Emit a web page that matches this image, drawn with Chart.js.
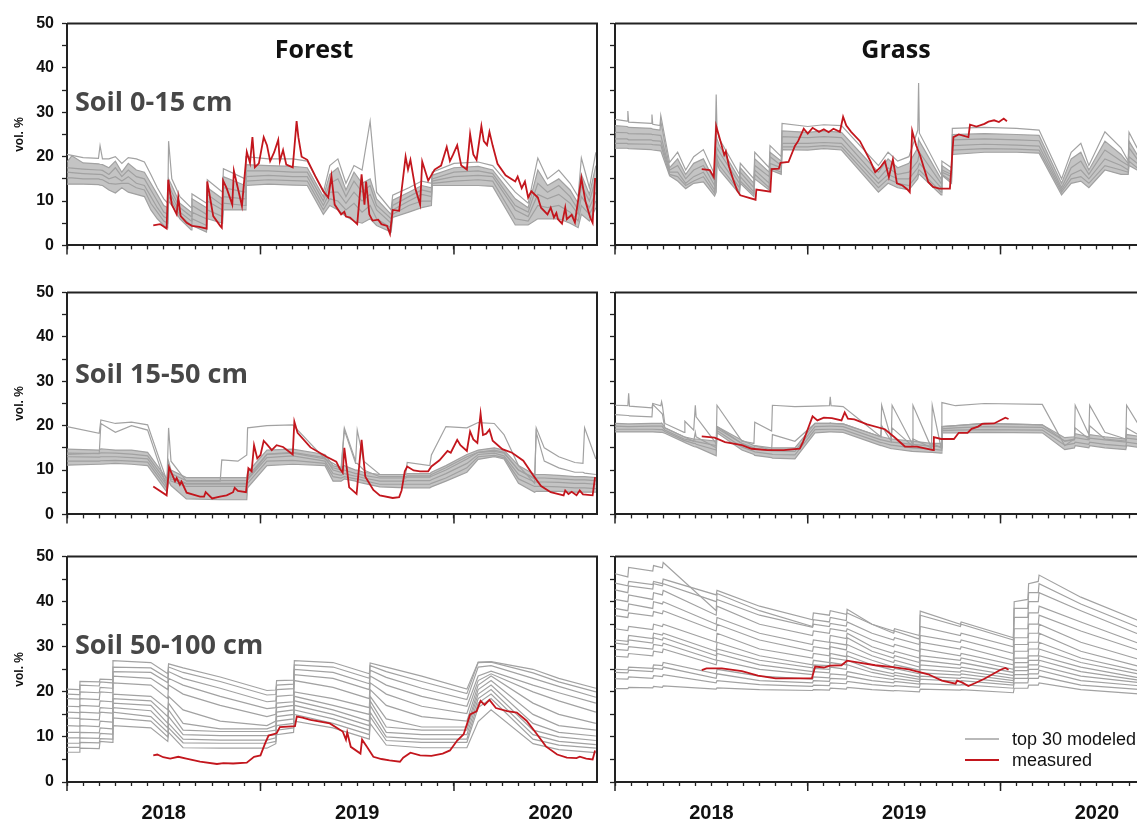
<!DOCTYPE html>
<html>
<head>
<meta charset="utf-8">
<script src="https://cdn.jsdelivr.net/npm/chart.js@4.4.1/dist/chart.umd.min.js"></script>
<style>
  html, body { margin: 0; padding: 0; background: #fff; overflow: hidden; }
  #wrap { position: relative; width: 1137px; height: 824px; overflow: hidden; }
  canvas { position: absolute; }
</style>
</head>
<body>
<div id="wrap">
  <canvas id="forestTop" width="600" height="257" style="left:0;top:6px"></canvas>
  <canvas id="grassTop" width="560" height="257" style="left:600px;top:6px"></canvas>
  <canvas id="forestMid" width="600" height="257" style="left:0;top:275px"></canvas>
  <canvas id="grassMid" width="560" height="257" style="left:600px;top:275px"></canvas>
  <canvas id="forestDeep" width="600" height="283" style="left:0;top:539px"></canvas>
  <canvas id="grassDeep" width="560" height="283" style="left:600px;top:539px"></canvas>
</div>
<script>
// x values are months since 1 Jan 2018
const monthTicks = [0,1,2,3,4,5,6,7,8,9,10,11,12,13,14,15,16,17,18,19,20,21,22,23,24,25,26,27,28,29,30,31,32];
const yearTicks = [0, 12, 24];
const yearLabelPos = [6, 18, 30];
const yearLabels = ['2018', '2019', '2020'];

// ---- Forest, soil 0-15 cm
const forestTopT = [0,0.3,1.0,1.95,2.05,2.2,2.6,3.0,3.4,3.8, 4.3,4.8,5.2,5.6,6.0,6.25,6.3,6.5,7.0,7.7, 7.75,8.65,8.7,9.65,9.7,11.05,11.1,12.5,14.0,14.9, 15.9,16.3,16.8,17.3,17.8,18.3,18.8,19.2,20.1,20.2, 21.2,22.0,22.6,22.65,24.0,25.5,26.4,27.8,28.6,29.2, 29.8,30.5,31.2,31.7,31.9,32.4,32.8];
const forestTopModeled = [
  [20.5,20.3,19.8,19.6,22.5,19.5,19.5,20,18.5,19.8, 19.5,18.8,16,13,10.5,9.5,23.5,15,11,8.5, 11.6,9.5,14.8,12,17.3,15,20,19.5,19.5,19, 12,18,19.5,14,18,17,28,12,8,11.3, 13,14.5,14,16.5,18.5,18.8,18,12,9.5,19.7, 15,17,14,11,19.7,13,21],
  [18.8,20.2,18.6,18.4,18.3,18.2,17.5,19,16.5,18.5, 17,16.5,14,11.5,9,8.5,15,13.5,9.5,7.5, 10.5,8.5,13,10.5,15.5,13.5,18.2,18,17.8,17.5, 11,16,17.5,12.5,16.5,14,15,10.5,7,10.2, 12,13.5,13,15.8,17.5,17.8,17,10.5,8.5,17, 13.5,15,12.5,9.5,16,11.5,18],
  [17.5,17.4,17.2,17,17,16.9,16,17.5,15.5,17, 15.5,15,12.5,10,7.5,7,13.5,12,8.5,6.5, 9,7,11.5,9,13,12,16.8,16.8,16.5,16.5, 10,14,15,11,14.5,12,13.5,9,6,9, 11,12.5,12,15,16.5,16.8,16.2,9,7.5,14, 12,13.5,11,8,13.5,10,15],
  [16.5,16.4,16.2,16,16,15.9,15,15.5,14.5,15.5, 14,13.5,11,8.5,6.5,6,12,11,7.5,5.5, 7.5,6,10,8,11,10.5,15.5,15.8,15.5,15.5, 9,12,12,9.5,12,10,11.5,8,5,8, 10,11.5,11,14.5,15.5,15.8,15.5,8,6.5,11.5, 10.5,11.5,9.5,7,11,8.5,12],
  [15.2,15.2,15,15,14.9,14.8,14,13.8,14,14, 13,12.5,9.5,7.5,5.5,5,11,10,6.8,4.5, 6,4.5,8,6.5,9.5,9,14.5,14.8,14.6,14.5, 8,10.5,10,8,9.5,7.5,9,6,4,7, 9,10,10,14,14.5,14.8,14.5,6,5.5,9, 8.5,9,7.5,5.5,9,7,10],
  [13.8,13.8,13.8,13.7,13.6,13.5,12.5,11.8,13,12, 11.5,11,8,6,4.5,4,10,9,6,3.5, 4.5,3,6,5,8,8,13.5,13.8,13.6,13.5, 7,9,8,6.5,5.5,5,6,4.5,3,6.3, 7.5,8.5,9,13.5,13.5,13.5,13.3,4.6,4.6,6, 6,6,5,4,7,5.5,8.5]
];
const forestTopMeasured = [[5.35,4.5],[5.77,4.8],[6.18,3.8],[6.28,14.8],[6.5,9.2],[6.8,7.0],[6.9,10.8],[7.05,6.6],[7.42,5.1],[7.75,4.4],[8.2,4.2],[8.66,3.8],[8.7,14.4],[9.07,6.6],[9.5,4.4],[9.6,4.0],[9.68,14.6],[9.9,12.9],[10.25,9.2],[10.35,16.8],[10.85,8.9],[11.15,21.1],[11.35,18.6],[11.5,24.4],[11.65,17.6],[11.9,18.5],[12.2,24.4],[12.4,22.6],[12.6,19],[12.85,21],[13.1,23.8],[13.2,19],[13.4,21.5],[13.6,18.2],[14.0,17.6],[14.24,28],[14.35,24.4],[14.55,20],[14.9,19.3],[15.4,15.6],[15.9,12.2],[16.2,10.8],[16.4,15.6],[16.6,9.2],[17.0,7.0],[17.2,7.6],[17.3,6.5],[17.55,6.3],[18.0,4.8],[18.27,16],[18.45,9.2],[18.55,14.4],[18.75,7],[18.95,5.6],[19.3,5.8],[19.5,4.8],[19.85,4.4],[20.03,2.6],[20.2,8.0],[20.6,7.8],[21.0,20],[21.15,17.1],[21.3,19.3],[21.6,12.9],[21.9,9.2],[22.03,18.9],[22.4,14.6],[22.8,17.1],[23.2,18],[23.55,22.2],[23.75,19],[23.95,20.5],[24.2,22.6],[24.45,18],[24.8,17.1],[25.0,25.1],[25.2,20.5],[25.4,19.3],[25.7,26.9],[25.85,23.5],[26.05,22.6],[26.2,25.6],[26.4,22.5],[26.7,18.4],[27.2,15.8],[27.8,14.4],[27.95,15.5],[28.2,12.9],[28.4,14.4],[28.6,10.8],[28.8,12.2],[29.2,10.8],[29.4,8.5],[29.8,7.0],[30.0,8.5],[30.2,6.3],[30.35,7.3],[30.45,5.9],[30.7,4.9],[30.9,8.5],[31.0,5.9],[31.3,6.9],[31.5,5.2],[31.9,15.2],[32.15,10],[32.45,6.3],[32.6,5.1],[32.75,15.2]];

// ---- Grass, soil 0-15 cm
const grassTopT = [0,0.75,0.8,0.85,2.25,2.3,2.35,2.8,2.85,3.4, 3.9,4.4,4.9,5.5,6.2,6.3,6.35,6.5,7.75,7.8, 8.65,8.7,9.6,9.65,10.35,10.4,12.0,13.0,14.1,16.4, 17.0,17.6,18.3,18.85,18.9,18.95,20.3,20.35,20.95,21.0, 23.0,25.0,26.4,27.8,28.4,29.0,29.5,30.5,31.5,31.95, 32.0,32.5,32.8];
const grassTopModeled = [
  [28.4,28,30.3,27.8,27.5,29.5,27.3,27,29.3,18.7, 21,17,20,21.6,16,34,26,24,16,18.5, 15,21,17.5,22.5,20,27.5,26.8,27.2,27,18, 21,19,20,26,36.6,25.3,16,19,17.5,26.4, 26.6,26.4,26,15,21,23,18,25.6,22,19, 25.5,22,21],
  [27,26.8,26.7,26.6,26.4,26.3,26.2,26,28,17.5, 19.5,16,18.5,19.5,14.5,25,24,22.5,15,17.5, 14,19.5,16.5,21,19,25.8,25.5,25.8,25.5,16.5, 19.5,17.5,18.5,22,24,23.5,15,18,16.5,25, 25.2,25,24.8,14,19.5,21,17,23.5,20.5,18.5, 23.5,20.5,20],
  [25.5,25.4,25.3,25.2,25.1,25,25,24.8,24.8,17, 18,15,17,18,13.5,20,22,21,14,16.5, 13,18,15.5,20,18,24.5,24.3,24.5,24.3,15, 17.5,16,16.5,19,20,21,14,17,16,23.8, 24,23.8,23.6,13,17.5,19,16,21.5,19,18, 22,19.5,19],
  [24,24,23.9,23.8,23.8,23.7,23.6,23.5,23.5,16.5, 16.5,14,15.5,16.5,12.5,16,20.5,19.5,13,15.5, 12,17,14,18.5,17.5,23,23,23.2,23,14, 16,15,15,17.5,18,18.5,13,16.5,15.5,22.5, 22.8,22.6,22.4,12.5,16,17,15,19.5,18,17, 20,18.5,18],
  [23,23,22.9,22.9,22.8,22.8,22.7,22.6,22.6,16, 15.5,13.5,14.5,15.5,11.8,14,19.5,18,12.2,14.5, 11.5,16,13,17.5,16.5,22.2,22.2,22.5,22.2,13, 15,14,13.5,16,17,17,12,16,14.5,21.5, 21.8,21.7,21.5,12,15,15.5,14,18,17,16.5, 19,17.5,17],
  [21.9,21.9,21.9,21.8,21.6,21.6,21.5,21.3,21.3,15.7, 14.5,12.8,14,14.3,11.1,12,18.6,17,11.6,14, 11,15,12.5,17,16,21.6,21.5,21.8,21.5,12, 14,13,12.5,15,16,16,11.4,15.8,14,20.5, 21,21,20.8,11.4,14,14.5,13,17,16,16, 18,17,16.5]
];
const grassTopMeasured = [[5.4,17.2],[5.9,17.0],[6.15,15.4],[6.3,26.9],[6.55,23.7],[6.8,20.4],[6.9,21.2],[7.1,17.8],[7.35,14.9],[7.6,12.4],[7.8,11.3],[8.75,10.3],[8.8,12.6],[9.67,12.1],[9.75,17.2],[10.2,17.3],[10.3,18.6],[10.8,18.8],[11.2,22.4],[11.4,23.5],[11.75,26.3],[12.0,25.2],[12.3,26.5],[12.7,25.6],[13.0,26.2],[13.3,25.5],[13.6,26.3],[14.0,25.6],[14.2,29],[14.4,27],[14.7,25.6],[15.25,23.5],[15.9,19.0],[16.2,16.5],[16.5,17.5],[16.8,19.0],[17.05,15.4],[17.3,19.4],[17.55,14.0],[17.9,13.5],[18.2,12.6],[18.35,12],[18.5,25.8],[18.75,22.5],[19.0,20.2],[19.5,14.3],[19.8,13.2],[20.2,12.8],[20.85,12.8],[21.07,24.4],[21.4,25.0],[22.0,24.4],[22.1,27.2],[22.5,26.8],[23.0,27.4],[23.25,27.9],[23.6,28.2],[23.9,27.8],[24.2,28.6],[24.4,28.0]];

// ---- Forest, soil 15-50 cm
const forestMidT = [0,2.0,2.1,3.0,4.0,5.0,6.2,6.3,6.45,7.4, 9.5,9.6,10.6,11.15,11.2,12.4,14.0,16.0,16.5,17.0, 17.2,17.9,18.0,18.4,19.4,21.0,21.1,22.5,22.6,23.5, 24.8,25.5,26.5,27.1,28.0,29.0,29.1,29.6,30.5,31.5, 32.0,32.1,32.8];
const forestMidModeled = [
  [19.8,18.3,21.3,20.5,20.8,20.2,7.5,19.5,12,7.5, 7.5,12.3,12,13.4,19.5,20,20.2,12.5,11.5,10.5, 19.5,12,19,12,9,9,11.7,11,13.4,19.8, 19.5,20.7,20.5,18,11,7,19.5,15,13,11.7, 11.5,19.5,12.5],
  [13.5,13.8,20.5,18.5,20,19,6,9.5,8,6.8, 6.8,6.8,6.8,6.8,8,13.5,13.8,12.5,10.5,10, 19,11.5,11.5,10,8.5,8.5,8.7,8.7,9,10.5, 13,14,14.5,14,10,8,18.5,12,10.5,9.5, 9.5,9.3,9],
  [14.7,14.5,14.8,14.5,14.5,14,8,12,10,8.3, 8.3,8.3,8.3,8.3,9.5,14.5,14.7,13.5,11,10.5, 11,10,10,9.5,9,9,9.2,9.2,9.5,11, 13.5,14.5,15,14.5,11,9,9,9,8.8,8.5, 8.5,8.5,8.3],
  [13.8,13.7,13.9,13.8,13.6,13.2,7.2,11,9.2,7.6, 7.6,7.6,7.6,7.6,8.5,13.6,14,12.8,10,9.5, 10,9.2,9.2,8.8,8.2,8.2,8.4,8.4,8.6,10, 12.5,14,14.2,13.8,10,8.2,8.2,8.2,8,7.8, 7.8,7.8,7.6],
  [13,12.9,13,13,12.8,12.5,6.5,10,8.5,7, 7,7,7,7,7.8,12.8,13.2,12,9.2,8.8, 9.2,8.6,8.6,8.2,7.5,7.5,7.6,7.6,7.8,9.2, 11.5,13.5,13.8,13.2,9,7.3,7.3,7.3,7.2,7, 7,7,6.8],
  [12,12,12.1,12.2,12,11.8,5.8,9,7.5,6.3, 6.3,6.3,6.3,6.3,7,12,12.2,11.5,8.5,8.2, 8.5,8,8,7.6,6.8,6.8,6.8,6.8,7,8.2, 10.5,13,13.3,12.8,8,6.3,6.3,6.3,6.2,6, 6,6,5.8],
  [11.1,11.3,11.3,11.5,11.3,11,5,7.5,6.5,3.5, 3.3,3.3,3.3,3.3,6,11,11.3,11,7.5,7.5, 8,7.5,7.3,7,6.2,6,6,6,6.2,7.5, 9.5,12.4,13,12.5,7,5,5.2,5.2,5.2,5, 5,5,5]
];
const forestMidMeasured = [[5.35,6.3],[6.18,4.3],[6.33,10.6],[6.7,7.5],[6.8,8.2],[7.0,6.7],[7.1,7.4],[7.42,4.9],[8.25,4.0],[8.5,4.0],[8.6,5.0],[9.0,3.6],[9.48,4.0],[9.9,4.3],[10.3,5.0],[10.4,6.0],[10.6,5.3],[11.1,5.0],[11.25,10.4],[11.45,9.7],[11.6,15.6],[11.8,12.6],[12.0,13.4],[12.2,16.6],[12.4,15.8],[12.7,14.5],[13.0,15.6],[13.4,15.2],[14.0,13.5],[14.1,20.9],[14.3,18.4],[15.1,15.1],[16.1,13.0],[16.7,11.9],[16.9,10.4],[17.1,9.4],[17.2,15.0],[17.5,6.1],[17.96,4.6],[18.27,16.8],[18.5,8.5],[19.0,5.5],[19.4,4.3],[20.2,3.7],[20.6,3.9],[20.75,5.4],[20.95,9.7],[21.1,10.8],[21.5,9.9],[21.9,9.7],[22.4,9.7],[22.6,10.8],[23.1,12.2],[23.6,14.3],[23.8,13.9],[24.2,16.8],[24.4,15.6],[24.8,14.3],[25.0,18.7],[25.2,16.9],[25.45,16.1],[25.65,22.7],[25.8,17.9],[26.0,18.2],[26.2,19.1],[26.4,16.6],[27.0,14.7],[27.6,13.9],[28.3,12.1],[28.9,8.9],[29.4,6.4],[30.0,5.0],[30.8,4.3],[30.9,5.4],[31.1,4.6],[31.3,5.1],[31.6,4.3],[31.8,5.4],[32.0,4.5],[32.6,4.3],[32.75,8.4]];

// ---- Grass, soil 15-50 cm
const grassMidT = [0,0.8,0.85,0.9,2.3,2.35,2.85,2.9,2.95,3.1, 4.3,4.35,4.9,5.0,5.05,6.3,6.35,7.9,8.65,8.7, 9.75,9.8,11.2,12.45,13.35,13.4,13.45,14.2,16.55,16.6, 17.2,17.25,18.5,18.55,19.7,19.75,20.3,20.35,21.2,23.0, 26.6,28.0,28.6,28.65,29.5,29.55,30.5,31.8,31.85,32.8];
const grassMidModeled = [
  [24.6,24.5,27.3,24.4,24.0,25,24.5,25.4,24.5,20.5, 18.5,21,19,24.6,22,16,24.6,16.5,16,20.8, 18.8,24.6,24.3,24.4,24.5,26.5,24.5,24.3,17.5,24.6, 17,24.6,16,24.6,15,24.6,15,25.2,24.5,25, 24.8,15.5,17,24.6,18,24.6,18.5,17,24.6,19],
  [22.5,22.3,22.3,22.2,22,24.8,23,22.8,22.6,19.5, 17.5,17.5,16.5,18.5,17.5,15,19.8,16,15,15.5, 14.5,18,16.5,20.5,20.5,20.6,20.5,20.4,17.5,20, 16.5,19.5,15.5,17,15,16,15,19.8,20,20.5, 20.2,16.5,17,19.5,17,20,17,16.5,19.5,17.5],
  [20.5,20.4,20.4,20.4,20.5,20.5,20.5,20.6,20.4,19.5, 17.5,17.5,17,17,17,16.5,19.8,16.7,15.5,15.5, 15,15,15,20.5,20.5,20.6,20.5,20.4,17.5,17.5, 17,17,16.5,16.5,16,16,16,19.8,20,20.5, 20.2,17.3,17.5,18.2,17.5,18,17.5,17,18,17.5],
  [19.9,19.8,19.8,19.8,19.9,19.9,19.9,19.9,19.8,19, 17,17,16.5,16.5,16.4,15.5,19.4,16,14.8,14.8, 14.3,14.3,14.2,19.8,19.9,19.9,19.9,19.8,16.8,16.8, 16.3,16.3,15.8,15.8,15.4,15.4,15.3,19.3,19.5,19.8, 19.6,16.5,16.8,17.3,16.8,17.2,16.8,16.3,17.2,16.8],
  [19.2,19.2,19.2,19.2,19.2,19.2,19.1,19.1,19.1,18.7, 16.7,16.7,16,16,15.8,14.5,18.9,15.2,14.2,14.1, 13.6,13.5,13.4,19.1,19.2,19.2,19.2,19.1,16.2,16.2, 15.6,15.6,15,15,14.7,14.7,14.5,18.9,19,19.1, 19,15.6,16,16.3,15.8,16.3,15.8,15.4,16.3,15.8],
  [18.6,18.6,18.6,18.6,18.6,18.6,18.5,18.5,18.5,18.3, 16.3,16.2,15.3,15.2,15.2,13.2,18.4,14.5,13.5,13.3, 12.8,12.7,12.5,18.4,18.6,18.6,18.6,18.5,15.5,15.5, 14.8,14.8,14.2,14.2,14,14,13.8,18.4,18.4,18.5, 18.4,14.6,15,15.5,15,15.5,15,14.6,15.5,15]
];
const grassMidMeasured = [[5.4,17.6],[6.2,17.3],[6.85,16.3],[7.9,15.6],[8.5,14.8],[9.5,14.5],[10.5,14.5],[11.5,14.8],[11.7,16.3],[12.0,19.2],[12.3,22.1],[12.6,21.2],[13.0,21.8],[13.5,21.7],[14.1,21.2],[14.3,23.0],[14.5,21.6],[14.9,21.4],[15.7,20.3],[16.8,19.2],[17.4,17.4],[18.05,15.3],[18.8,15.3],[19.8,14.5],[19.85,17.4],[20.3,17.0],[21.1,17.0],[21.4,18.4],[21.95,18.4],[22.2,19.3],[22.6,19.8],[22.85,20.4],[23.6,20.5],[24.3,21.8],[24.5,21.5]];

// ---- Forest, soil 50-100 cm
const forestDeepT = [0,0.75,0.8,2.0,2.05,2.8,2.85,5.2,6.25,6.3, 7.2,9.5,12.4,12.95,13.0,14.05,14.1,16.5,18.75,18.8, 19.8,22.0,24.8,25.5,26.3,28.9,30.5,32.8];
const forestDeepModeled = [
  [20.6,20.5,22.3,22.2,22.8,22.7,26.9,26.5,24,26.2, 25.3,23.3,20.3,20.4,22.5,22.6,26.9,26.5,24,26.4, 25.5,23.5,20.6,26.6,26.7,25,23,20.8],
  [19.5,19.4,21.5,21.3,22.2,22,25.5,25.3,23,25.5, 24.3,22.3,19.3,19.4,21.5,21.7,26,25.5,23,25.8, 24.5,22.3,19.6,26.5,26.6,24.2,22.2,20],
  [18.5,18.4,20,19.8,21,20.8,24.5,24.3,22,24.5, 23,20.8,17.8,18,20.5,20.7,25,24.3,21.8,24.8, 23.2,20.8,18.3,25.5,25.8,23,21.2,18.8],
  [16.8,16.7,18.5,18.3,20,19.8,23.5,23,20.5,23, 21.5,19,16.3,16.5,19,19.3,23.8,23,20.5,23.5, 21.5,19,16.8,23.5,24.6,21.5,19.8,17.5],
  [15.5,15.4,17,16.8,18,17.8,22,21.5,18.5,21.5, 19.5,17,14.5,15,17.5,17.8,22.5,21,18.5,22, 19.5,16.8,15.2,22.5,24,20,18,15.5],
  [14.2,14.1,15.5,15.3,16.5,16.3,19.5,19,16,19, 16,13.5,12.5,13.5,16.5,17,20,18.5,16.5,20.5, 17,14.5,13.5,21.5,23.5,17.5,15,13],
  [12.5,12.4,14,13.8,15.5,15.3,18.5,18,14.5,17.5, 13,11.8,11.8,12.5,15.5,16,19,17,15,19, 14,12.2,12.2,20.5,22.5,15,12.5,11.5],
  [11,11,12.5,12.3,13.5,13.3,17.5,17,13,16, 11.5,11.2,11.2,11.5,14.5,15,18,16,13.5,18, 12.2,11.5,11.5,19.5,21.5,13,11,10.2],
  [9.8,9.8,11,10.9,12,11.8,16.5,15.8,12,14.5, 10.5,10.3,10.3,10.5,13.5,14,17,15,12.5,17, 11,10.5,10.5,18.5,20.5,11.5,10,9.2],
  [8.6,8.6,9.8,9.7,10.8,10.6,15.5,14.5,11,13, 9.5,9.3,9.3,9.8,12.5,13,16,14,11.5,15.5, 10,9.5,9.5,17.5,19.5,10.5,9,8.3],
  [7.7,7.7,8.8,8.7,9.6,9.5,14.2,13.5,10,12, 8.7,8.6,8.6,9,11.5,12,15,13,10.5,14.5, 9.2,8.8,8.8,16.5,18.5,9.5,8.2,7.5],
  [6.6,6.6,7.5,7.4,9,8.8,12.5,12,9,11, 7.6,7.5,7.5,8.5,10.5,11,13.5,12,9.5,13, 8.2,7.6,7.6,13.4,16,8.5,7.2,6.5]
];
const forestDeepMeasured = [[5.35,5.9],[5.6,6.1],[5.97,5.5],[6.4,5.2],[6.9,5.6],[7.4,5.2],[8.25,4.5],[9.3,4.0],[9.7,4.2],[10.3,4.1],[11.15,4.3],[11.6,5.6],[12.0,5.9],[12.28,8.5],[12.5,10.3],[13.0,10.8],[13.2,12.2],[14.14,12.4],[14.25,14.5],[14.6,14.3],[15.1,13.8],[16.3,13.0],[17.1,11.2],[17.3,9.4],[17.38,11.0],[17.6,7.8],[18.2,6.3],[18.3,9.4],[18.6,7.8],[19.0,5.6],[19.5,5.1],[20.0,4.8],[20.65,4.5],[20.85,5.4],[21.3,6.5],[21.9,5.9],[22.6,5.8],[23.3,6.3],[23.75,7.0],[24.2,9.2],[24.6,10.6],[25.0,15.0],[25.4,15.7],[25.65,18.0],[25.9,17.1],[26.2,18.2],[26.6,16.4],[27.3,15.7],[27.9,15.4],[28.5,13.6],[29.1,10.8],[29.7,7.9],[30.4,6.1],[31.0,5.4],[31.6,5.3],[31.8,5.6],[32.2,5.2],[32.6,5.0],[32.75,7.0]];

// ---- Grass, soil 50-100 cm
const grassDeepT = [0,0.8,0.85,2.35,2.4,2.95,3.0,6.3,6.35,9.0, 12.3,12.35,13.35,13.4,14.4,14.45,16.0,17.35,17.4,18.95, 19.0,21.5,21.55,24.8,24.85,25.7,25.75,26.35,26.4,29.0, 32.8];
const grassDeepModeled = [
  [46.2,45.5,47.6,46.8,48,47.5,48.7,38,41.8,38, 34.5,36,35.5,36.5,35.8,38.3,35,33,33.5,31.7, 37.9,35,35.5,32,40,40.5,44,44.5,45.9,41, 35.5],
  [44.1,43.5,44.5,43.8,44.5,44,45,41.5,42.5,39, 36,37.5,37,38,37.2,37.5,35,33.5,34,32.5, 37,34.5,35,31.5,38.5,38.5,42,42,44,39.5, 34],
  [42.6,42,43.5,42.8,44,43.5,44,40,40.5,37, 34.3,35,34.5,35.2,34.6,35.5,33,31.5,32,30.5, 34.5,32.5,33,30,36.5,36.5,40,40,42,38, 32.5],
  [40.5,40,41.5,40.5,42,41.5,42.5,37,39,35, 32.5,33.5,33,34,33.4,34,31.5,30,30.5,29, 32.5,31,31.5,28.5,34,34,37.5,37.5,39,35.5, 30.5],
  [38.5,38,39.5,38.5,40,39.5,40,35,36.5,33, 30.5,31.5,31,32.5,31.8,33,30,28.5,29,27.5, 31,29.5,30,27,32,32,35,35,37,33.5, 29],
  [36.9,36.5,37.5,36.8,37.8,37.3,38,33.5,35,31.5, 29,30,29.5,31,30.4,32,29,27.5,28,26.5, 29.5,28,28.5,26,30.5,30.5,33,33,35,31, 27],
  [34,33.6,34.5,33.8,35,34.5,35,31,33,29.5, 27.5,28.5,28,30,29.3,30.5,28,26.5,27,25.5, 28,27,27.5,25,29,29,31,31,33,29, 25.5],
  [31.5,31.2,32.5,31.8,33,32.6,33,29,31,28, 26,27,26.5,28.5,27.8,29,27,25.5,26,24.8, 27,26,26.5,24.3,27.5,27.5,29.5,29.5,31,27.5, 24.5],
  [30.8,30.5,31.5,30.8,32,31.5,32,28,29.5,27, 25.3,26,25.8,27.5,27,28,26,24.8,25.2,24, 26,25.2,25.5,23.6,26.5,26.5,28,28,29.5,26.5, 23.8],
  [29.4,29.2,30,29.5,30.5,30.2,30.8,27,28.5,26, 24.5,25.2,25,26.5,26,27,25,24,24.3,23.3, 25,24.4,24.7,23,25.5,25.5,27,27,28,25.5, 23],
  [27.9,27.7,28.5,28,29,28.7,29.5,26,27,25, 23.8,24.5,24.2,25.5,25,26,24.3,23.4,23.7,22.8, 24.2,23.7,24,22.5,24.7,24.7,26,26,27,24.5, 22.5],
  [25,24.9,25.5,25.2,26,25.8,26.5,24,25,23.5, 22.8,23.3,23.1,24,23.7,24.5,23.4,22.7,23,22.3, 23.5,23,23.2,22,23.8,23.8,25,25,25.8,23.5, 22],
  [24.3,24.2,24.8,24.5,25.2,25,25.5,23,24,22.5, 22,22.5,22.3,23,22.8,23.5,22.5,22,22.3,21.7, 22.8,22.3,22.5,21.5,23,23,24,24,24.8,22.5, 21.3],
  [22.9,22.8,23.3,23,23.6,23.4,23.8,22,22.5,21.6, 21.2,21.5,21.4,22,21.8,22.3,21.6,21.2,21.4,21, 21.8,21.5,21.6,20.8,22,22,23,23,23.5,21.5, 20.5],
  [20.7,20.7,21,20.9,21.2,21,21.3,20.6,20.9,20.5, 20.3,20.5,20.4,20.8,20.6,21,20.5,20.2,20.3,20, 20.6,20.4,20.5,19.8,20.8,20.8,21.5,21.5,22,20.5, 19.5]
];
const grassDeepMeasured = [[5.4,24.8],[5.7,25.2],[6.65,25.2],[7.9,24.6],[8.9,23.6],[10.0,23.0],[12.26,23.0],[12.46,25.6],[13.0,25.4],[13.4,25.8],[14.1,25.9],[14.45,26.9],[15.0,26.6],[16.2,25.9],[17.3,25.5],[18.3,25.0],[19.5,23.9],[20.35,22.5],[21.2,21.8],[21.3,22.5],[21.6,22.1],[22.0,21.3],[22.4,21.9],[23.0,22.9],[23.7,24.3],[24.0,24.9],[24.3,25.3],[24.5,24.9]];

const gray = '#a2a2a2';
const bandFill = 'rgba(160,160,160,0.62)';
const red = '#c3161d';
const axisColor = '#222';

Chart.defaults.font.family = "'Liberation Sans', Arial, sans-serif";

const panelPlugin = {
  id: 'panel',
  afterDraw(chart, args, o) {
    const ctx = chart.ctx, a = chart.chartArea, xs = chart.scales.x;
    ctx.save();
    // top and right frame
    ctx.strokeStyle = axisColor;
    ctx.lineWidth = 2;
    ctx.beginPath();
    ctx.moveTo(a.left, a.top);
    ctx.lineTo(a.right, a.top);
    ctx.lineTo(a.right, a.bottom);
    ctx.stroke();
    // longer ticks at year boundaries
    ctx.lineWidth = 1.5;
    yearTicks.forEach(v => {
      const px = xs.getPixelForValue(v);
      ctx.beginPath();
      ctx.moveTo(px, a.bottom);
      ctx.lineTo(px, a.bottom + 9);
      ctx.stroke();
    });
    ctx.textBaseline = 'alphabetic';
    if (o.title) {
      ctx.textAlign = 'center';
      ctx.font = "bold 25px 'Open Sans'";
      ctx.fillStyle = '#111';
      ctx.fillText(o.title, a.left + o.titleX, a.top + 34);
    }
    if (o.soil) {
      ctx.textAlign = 'left';
      ctx.font = "bold 27px 'Open Sans'";
      ctx.fillStyle = '#474747';
      ctx.fillText(o.soil, a.left + 8, a.top + o.soilY);
    }
    if (o.legend) {
      const lx = a.left + 350, ty = a.bottom - 43;
      [[gray, 'top 30 modeled'], [red, 'measured']].forEach((item, i) => {
        const y = ty + i * 21;
        ctx.strokeStyle = item[0];
        ctx.lineWidth = i ? 1.8 : 1.4;
        ctx.beginPath();
        ctx.moveTo(lx, y);
        ctx.lineTo(lx + 34, y);
        ctx.stroke();
        ctx.fillStyle = '#111';
        ctx.textAlign = 'left';
        ctx.textBaseline = 'middle';
        ctx.font = "18px 'Liberation Sans', Arial";
        ctx.fillText(item[1], lx + 47, y + 1);
      });
    }
    ctx.restore();
  }
};

function makePanel(id, t, modeled, measured, p) {
  const datasets = [{
    data: measured.map(q => ({ x: q[0], y: q[1] })),
    borderColor: red, borderWidth: 1.8, order: 0, fill: false
  }];
  modeled.forEach((trace, i) => {
    const ds = {
      data: trace.map((v, k) => ({ x: t[k], y: v })),
      borderColor: gray, borderWidth: 1.2, order: 1, fill: false
    };
    // the dense model band is shaded between two of its traces
    if (p.band && i === p.band[0]) {
      ds.fill = { target: p.band[1] + 1 };
      ds.backgroundColor = bandFill;
    }
    datasets.push(ds);
  });

  new Chart(document.getElementById(id), {
    type: 'line',
    data: { datasets },
    options: {
      responsive: false,
      animation: false,
      events: [],
      layout: { padding: { top: 12, right: p.padRight, bottom: 0, left: 0 } },
      elements: { point: { radius: 0 }, line: { tension: 0 } },
      plugins: {
        legend: { display: false },
        tooltip: { enabled: false },
        filler: { propagate: false },
        panel: { title: p.title, titleX: p.titleX, soil: p.soil, soilY: p.soilY, legend: p.legend }
      },
      scales: {
        x: {
          type: 'linear', min: 0, max: 32.87,
          afterBuildTicks: s => { s.ticks = monthTicks.map(v => ({ value: v })); },
          afterFit: s => { s.height = p.xh; },
          grid: { drawOnChartArea: false, tickLength: 4, tickColor: axisColor, tickWidth: 1.3 },
          border: { color: axisColor, width: 2 },
          ticks: {
            autoSkip: false, maxRotation: 0, minRotation: 0, padding: 15,
            color: '#111', font: { size: 20, weight: 'bold' },
            callback: v => {
              if (!p.years) return '';
              const k = yearLabelPos.indexOf(v);
              return k >= 0 ? yearLabels[k] : '';
            }
          }
        },
        y: {
          min: 0, max: 50,
          afterFit: s => { s.width = p.yw; },
          grid: { drawOnChartArea: false, tickLength: 5, tickColor: axisColor, tickWidth: 1.3 },
          border: { color: axisColor, width: 2 },
          ticks: {
            stepSize: 5, padding: 8, color: '#111', font: { size: 16, weight: 'bold' },
            callback: v => (p.yLabels && v % 10 === 0) ? v : ''
          },
          title: {
            display: p.yLabels, text: 'vol. %', color: '#111',
            font: { size: 12, weight: 'bold' }, padding: { top: 12, bottom: 0 }
          }
        }
      }
    },
    plugins: [panelPlugin]
  });
}

const leftCol = { yw: 67, padRight: 3, yLabels: true };
const rightCol = { yw: 13, padRight: 17, yLabels: false };

makePanel('forestTop', forestTopT, forestTopModeled, forestTopMeasured,
  Object.assign({}, leftCol, { xh: 14, band: [1, 5], title: 'Forest', titleX: 247, soil: 'Soil 0-15 cm', soilY: 87 }));
makePanel('grassTop', grassTopT, grassTopModeled, grassTopMeasured,
  Object.assign({}, rightCol, { xh: 14, band: [1, 5], title: 'Grass', titleX: 281 }));
makePanel('forestMid', forestMidT, forestMidModeled, forestMidMeasured,
  Object.assign({}, leftCol, { xh: 14, band: [2, 6], soil: 'Soil 15-50 cm', soilY: 90 }));
makePanel('grassMid', grassMidT, grassMidModeled, grassMidMeasured,
  Object.assign({}, rightCol, { xh: 14, band: [2, 5] }));
makePanel('forestDeep', forestDeepT, forestDeepModeled, forestDeepMeasured,
  Object.assign({}, leftCol, { xh: 40, years: true, soil: 'Soil 50-100 cm', soilY: 97 }));
makePanel('grassDeep', grassDeepT, grassDeepModeled, grassDeepMeasured,
  Object.assign({}, rightCol, { xh: 40, years: true, legend: true }));
</script>
</body>
</html>
